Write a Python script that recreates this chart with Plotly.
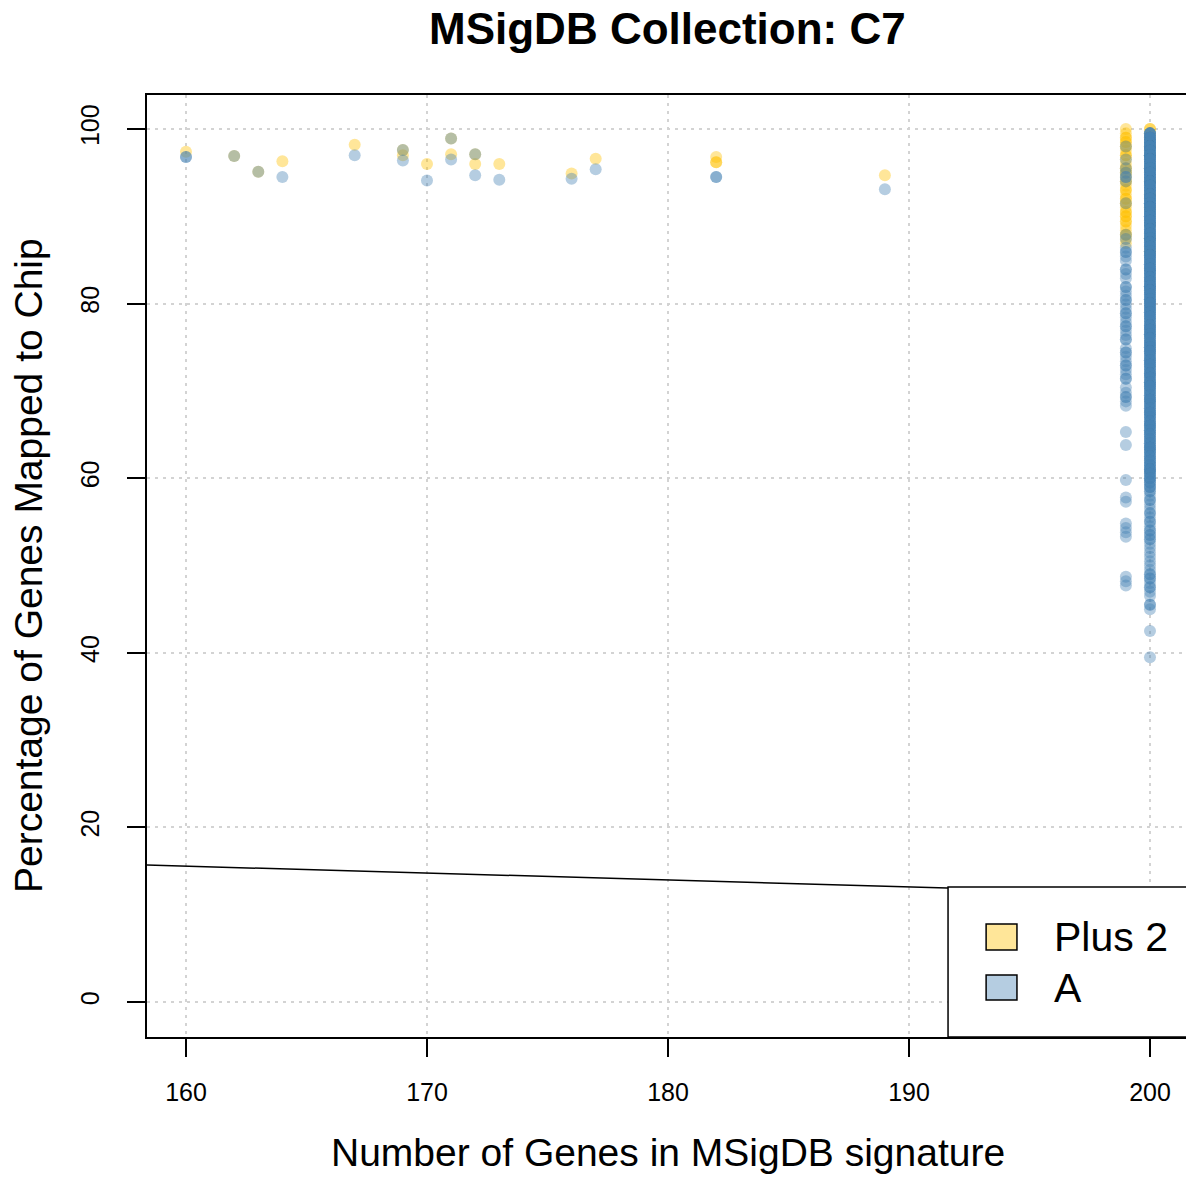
import numpy as np
import plotly.graph_objects as go

# ---- data -------------------------------------------------------------
series_names = ["Plus 2", "A"]

# signatures with fewer than 199 genes
plus2_genes = [160, 162, 163, 164, 167, 169, 169, 170, 171, 171, 172, 172, 173,
               176, 177, 182, 182, 182, 189]
plus2_pct = [97.4, 96.9, 95.1, 96.3, 98.2, 97.6, 97.0, 96.0, 98.9, 97.1, 97.1, 96.0, 96.0,
             94.9, 96.6, 96.8, 96.2, 96.2, 94.7]

a_genes = [160, 160, 162, 163, 164, 167, 169, 169, 170, 171, 171, 172, 172, 173,
           176, 177, 182, 182, 189]
a_pct = [96.8, 96.8, 96.9, 95.1, 94.5, 97.0, 97.6, 96.4, 94.1, 98.9, 96.5, 97.1, 94.7, 94.2,
         94.3, 95.4, 94.5, 94.5, 93.1]

# 199-gene signatures: percentage values and how many signatures share each
plus2_199_pct = [100.0, 99.5, 99.0, 98.5, 98.0, 97.5, 97.0, 96.5, 96.0, 95.5, 95.0, 94.5,
                 94.0, 93.5, 93.0, 92.5, 92.0, 91.5, 91.0, 90.5, 90.0, 89.4, 88.9, 88.4,
                 87.9, 87.4, 86.9]
plus2_199_n = [1, 1, 2, 2, 2, 1, 2, 1, 1, 2, 2, 1, 2, 1, 2, 1, 2, 2, 1, 2, 2, 2, 1, 1,
               2, 1, 1]

a_199_pct = [98.0, 96.5, 95.5, 95.0, 94.5, 94.0, 91.5, 87.9, 87.4, 86.4, 85.9, 85.4,
             84.9, 83.9, 83.4, 82.9, 81.9, 81.4, 80.9, 80.4, 79.9, 79.4, 78.9, 78.4,
             77.9, 77.4, 76.9, 76.4, 75.9, 74.9, 74.4, 73.9, 73.4, 72.9, 72.4, 71.9,
             71.4, 70.4, 69.8, 69.3, 68.8, 68.3, 65.3, 63.8, 59.8, 57.8, 57.3, 54.8,
             54.3, 53.8, 53.3, 48.7, 48.2, 47.7]
a_199_n = [1, 1, 1, 1, 2, 1, 1, 1, 1, 1, 2, 1,
           1, 2, 1, 1, 2, 1, 1, 2, 1, 1, 2, 1,
           1, 2, 1, 1, 2, 1, 2, 1, 1, 2, 1, 1,
           2, 1, 1, 2, 1, 1, 1, 1, 1, 1, 1, 1,
           1, 1, 1, 1, 1, 1]

# 200-gene signatures
plus2_200_pct = [100.0, 99.5, 99.0, 98.0, 97.0, 95.5, 94.0, 92.5, 91.0, 89.0, 87.5, 86.0]
plus2_200_n = [2, 1, 1, 1, 1, 1, 1, 1, 1, 1, 1, 1]

a_200_pct = [99.5, 99.0, 98.5, 98.0, 97.5, 97.0, 96.5, 96.0, 95.5, 95.0,
             94.5, 94.0, 93.5, 93.0, 92.5, 92.0, 91.5, 91.0, 90.5, 90.0,
             89.5, 89.0, 88.5, 88.0, 87.5, 87.0, 86.5, 86.0, 85.5, 85.0,
             84.5, 84.0, 83.5, 83.0, 82.5, 82.0, 81.5, 81.0, 80.5, 80.0,
             79.5, 79.0, 78.5, 78.0, 77.5, 77.0, 76.5, 76.0, 75.5, 75.0,
             74.5, 74.0, 73.5, 73.0, 72.5, 72.0, 71.5, 71.0, 70.5, 70.0,
             69.5, 69.0, 68.5, 68.0, 67.5, 67.0, 66.5, 66.0, 65.5, 65.0,
             64.5, 64.0, 63.5, 63.0, 62.5, 62.0, 61.5, 61.0, 60.5, 60.0,
             59.5, 59.0,
             58.5, 58.0, 57.5, 57.0, 56.5, 56.0, 55.5, 55.0, 54.5, 54.0,
             53.5, 53.0, 52.5, 52.0, 51.5, 51.0, 50.5, 50.0, 49.5, 49.0,
             48.5, 48.0, 47.5, 47.0, 46.5, 45.5, 45.0, 42.5, 39.5]
a_200_n = [5, 6, 6, 7, 6, 7, 6, 6, 7, 6,
           6, 7, 6, 6, 6, 7, 6, 6, 6, 6,
           6, 6, 5, 6, 6, 5, 6, 5, 6, 5,
           5, 6, 5, 5, 5, 6, 5, 5, 5, 5,
           5, 5, 5, 4, 5, 5, 5, 4, 5, 5,
           5, 4, 5, 5, 4, 5, 4, 5, 5, 4,
           4, 5, 4, 4, 5, 4, 4, 5, 4, 4,
           4, 4, 5, 4, 4, 4, 4, 5, 4, 4,
           3, 3,
           2, 1, 2, 1, 1, 2, 1, 2, 1, 2,
           2, 2, 1, 1, 1, 1, 1, 1, 1, 2,
           2, 1, 2, 1, 1, 2, 1, 1, 1]

# fitted line drawn across the panel
fit_intercept = 28.22
fit_slope = -0.0791

x_ticks = [160, 170, 180, 190, 200]
y_ticks = [0, 20, 40, 60, 80, 100]

# ---- assemble points --------------------------------------------------
def expand(genes, pct, n):
    return [genes] * int(np.sum(n)), list(np.repeat(pct, n))

px199, py199 = expand(199, plus2_199_pct, plus2_199_n)
px200, py200 = expand(200, plus2_200_pct, plus2_200_n)
ax199, ay199 = expand(199, a_199_pct, a_199_n)
ax200, ay200 = expand(200, a_200_pct, a_200_n)

plus2_x = plus2_genes + px199 + px200
plus2_y = plus2_pct + py199 + py200
a_x = a_genes + ax199 + ax200
a_y = a_pct + ay199 + ay200

gold = "rgba(255,192,0,0.4)"
steel = "rgba(70,130,180,0.4)"
FONT = "Liberation Sans, Arial, Helvetica, sans-serif"

x_lo, x_hi = 158.382, 201.494
y_lo, y_hi = -4.009, 103.895

fig = go.Figure()
fig.add_trace(go.Scatter(x=plus2_x, y=plus2_y, mode="markers", name=series_names[0],
                         marker=dict(color=gold, size=12, line=dict(width=0)),
                         showlegend=False))
fig.add_trace(go.Scatter(x=a_x, y=a_y, mode="markers", name=series_names[1],
                         marker=dict(color=steel, size=12, line=dict(width=0)),
                         showlegend=False))

line_x = [x_lo - 1, x_hi + 1]
line_y = [fit_intercept + fit_slope * v for v in line_x]
fig.add_trace(go.Scatter(x=line_x, y=line_y, mode="lines",
                         line=dict(color="black", width=1.5),
                         showlegend=False, hoverinfo="skip"))

# legend box in the lower-right corner
leg_left, leg_top = 191.62, 13.17
shapes = [
    dict(type="rect", xref="x", yref="y", x0=leg_left, x1=x_hi + 2, y0=y_lo, y1=leg_top,
         fillcolor="white", line=dict(color="black", width=1.5), layer="above"),
    dict(type="rect", xref="x", yref="y", x0=193.2, x1=194.48, y0=5.96, y1=8.93,
         fillcolor=gold, line=dict(color="black", width=1.5), layer="above"),
    dict(type="rect", xref="x", yref="y", x0=193.2, x1=194.48, y0=0.23, y1=3.09,
         fillcolor=steel, line=dict(color="black", width=1.5), layer="above"),
]

annotations = [
    dict(text=series_names[0], xref="x", yref="y", x=195.95, y=7.45, xanchor="left",
         yanchor="middle", showarrow=False, font=dict(family=FONT, size=41, color="black")),
    dict(text=series_names[1], xref="x", yref="y", x=195.95, y=1.6, xanchor="left",
         yanchor="middle", showarrow=False, font=dict(family=FONT, size=41, color="black")),
    dict(text="<b>MSigDB Collection: C7</b>", xref="paper", yref="paper", x=0.5014, y=1.0711,
         xanchor="center", yanchor="middle", showarrow=False,
         font=dict(family=FONT, size=44, color="black")),
    dict(text="Number of Genes in MSigDB signature", xref="paper", yref="paper",
         x=0.5014, y=-0.1221, xanchor="center", yanchor="middle", showarrow=False,
         font=dict(family=FONT, size=39, color="black")),
    dict(text="Percentage of Genes Mapped to Chip", xref="paper", yref="paper",
         x=-0.1145, y=0.5, xanchor="center", yanchor="middle", textangle=-90,
         showarrow=False, font=dict(family=FONT, size=39, color="black")),
]

axis_common = dict(
    showgrid=True, gridcolor="#D3D3D3", gridwidth=1.5, griddash="3px,5px",
    zeroline=False, showline=True, linecolor="black", linewidth=1.5,
    ticks="outside", ticklen=18, tickwidth=1.5, tickcolor="black",
    tickfont=dict(family=FONT, size=25, color="black"),
)

fig.update_layout(
    width=1186, height=1177,
    margin=dict(l=147, r=0, t=95, b=140, autoexpand=False),
    paper_bgcolor="white", plot_bgcolor="white",
    xaxis=dict(range=[x_lo, x_hi], tickvals=x_ticks, mirror=True,
               ticklabelstandoff=14, **axis_common),
    yaxis=dict(range=[y_lo, y_hi], tickvals=y_ticks, tickangle=-90,
               ticklabelstandoff=18, **axis_common),
    shapes=shapes,
    annotations=annotations,
    showlegend=False,
)

fig.write_html("out.html")
